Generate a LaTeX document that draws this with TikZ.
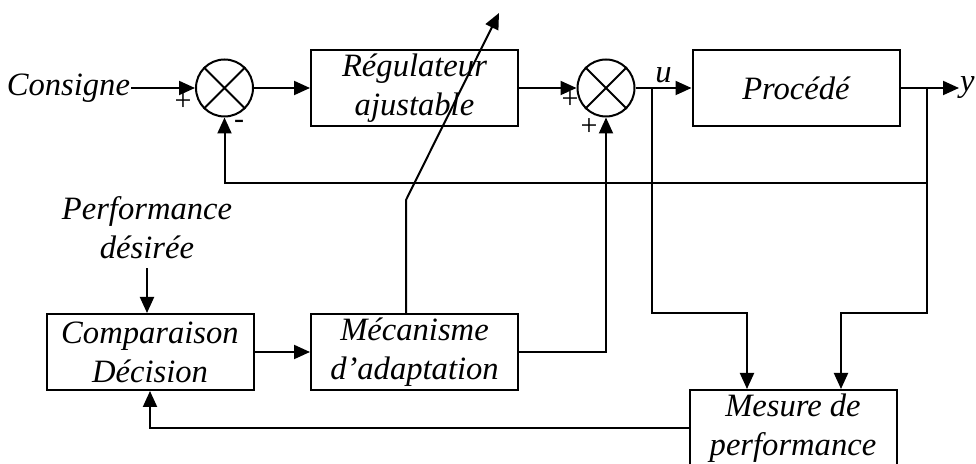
\documentclass[tikz,border=0pt]{standalone}
\usepackage{fontspec}
\setmainfont{Liberation Serif}
\usetikzlibrary{arrows.meta,calc}

\begin{document}
\begin{tikzpicture}[x=0.5pt,y=-0.5pt,>={Triangle[length=8pt,width=7pt]},line width=1pt]
			\tikzstyle{block}=[draw,minimum width=103.5pt,minimum height=38pt,inner sep=0pt,align=center,font=\fontsize{16.3}{19.5}\selectfont\itshape]
			\tikzstyle{sum}=[draw,circle,minimum size=28.5pt,inner sep=0pt]
			\tikzstyle{lbl}=[inner sep=0pt,align=center,font=\fontsize{16.3}{19.5}\selectfont\itshape]
			\tikzstyle{sign}=[inner sep=0pt,font=\fontsize{15}{15}\selectfont]

			\useasboundingbox (0,0) rectangle (976,464);

			\node (cons) [lbl, anchor=east] at (131,88) {Consigne};
			\node (sum1) [sum] at (224.5,88) {};
			\draw (sum1.45) -- (sum1.225) (sum1.135) -- (sum1.-45);
			\node (reg) [block] at (414.5,88) {Régulateur\\ajustable};
			\node (sum2) [sum] at (606,88) {};
			\draw (sum2.45) -- (sum2.225) (sum2.135) -- (sum2.-45);
			\node (proc) [block] at (796,88) {Procédé};
			\node (yout) [lbl, anchor=west] at (959,88) {y};

			\node (perf) [lbl] at (147,228) {Performance\\désirée};
			\node (comp) [block] at (150,352) {Comparaison\\Décision};
			\node (meca) [block] at (414.5,352) {Mécanisme\\d’adaptation};
			\node (mes) [block] at (793,428) {Mesure de\\performance};

			\node (p1) [sign] at (183,102) {+};
			\node (m1) [sign] at (239,124) {-};
			\node (p2) [sign] at (570,100) {+};
			\node (p3) [sign] at (589,127) {+};

			\coordinate (ubr) at (652,88);
			\coordinate (ybr) at (927,88);
			\coordinate (adjknee) at (406,200);
			\coordinate (adjtip) at (499,13);

			\draw [->] (cons.east) -- (sum1.west);
			\draw [->] (sum1.east) -- (reg.west);
			\draw [->] (reg.east) -- (sum2.west);
			\draw [->] (sum2.east) -- (proc.west) node[lbl, pos=0.5, above=2pt] (u) {u};
			\draw [->] (proc.east) -- (yout.west);

			\draw [->] (ybr) -- ++(0,95) -| (sum1.south);

			\draw [->] ($(perf.south)+(0,8)$) -- (perf.south |- comp.north);
			\draw [->] (comp.east) -- (meca.west);
			\draw [->] (meca.east) -| (sum2.south);
			\draw [->] (meca.north -| adjknee) -- (adjknee) -- (adjtip);

			\draw [->] (ubr) -- ++(0,225) -| ($(mes.north)+(-46,0)$);
			\draw [->] (ybr) -- ++(0,225) -| ($(mes.north)+(48,0)$);
			\draw [->] (mes.west) -| (comp.south);
		\end{tikzpicture}
\end{document}
